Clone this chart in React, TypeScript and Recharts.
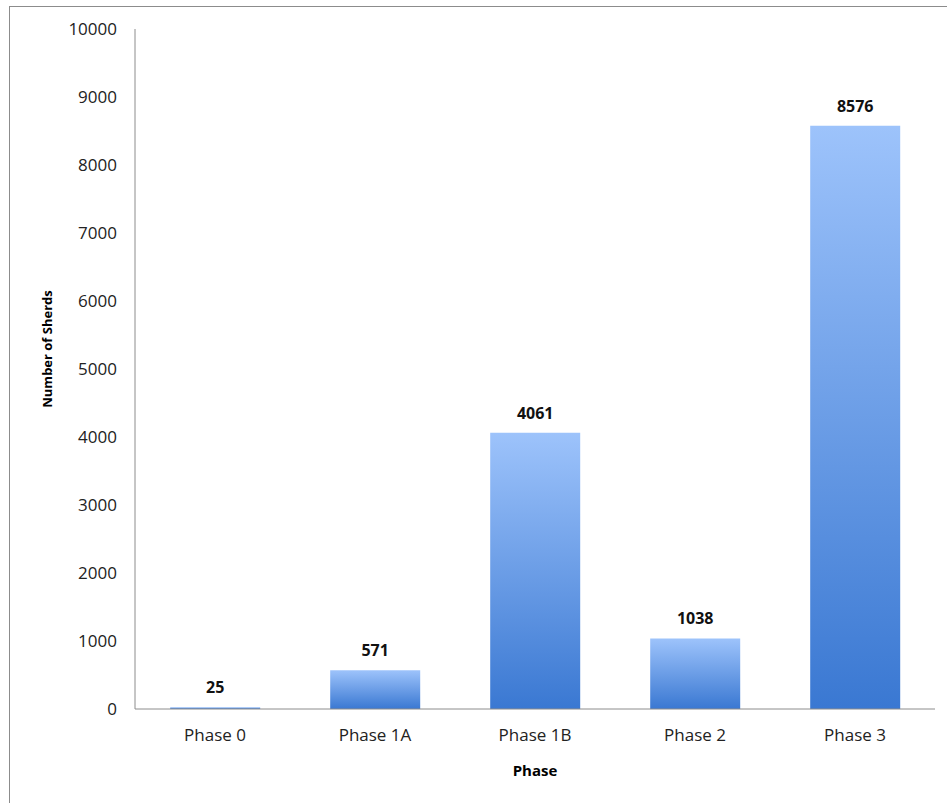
import { BarChart, Bar, XAxis, YAxis, LabelList } from "recharts"

const phases = ["Phase 0", "Phase 1A", "Phase 1B", "Phase 2", "Phase 3"]
const sherds = [25, 571, 4061, 1038, 8576]
const yTicks = [0, 1000, 2000, 3000, 4000, 5000, 6000, 7000, 8000, 9000, 10000]

const data = phases.map((phase, i) => ({ phase, sherds: sherds[i] }))

const FONT = "'Open Sans', 'Noto Sans', sans-serif"

// rotated y axis title, sits a little above the middle of the axis like the original
const YTitle = (props: any) => {
  const vb = props.viewBox || { x: 0, y: 0, width: 0, height: 0 }
  const cx = vb.x + 47
  const cy = vb.y + vb.height / 2 - 20
  return (
    <text
      x={cx}
      y={cy}
      transform={`rotate(-90 ${cx} ${cy})`}
      textAnchor="middle"
      dominantBaseline="central"
      fontFamily={FONT}
      fontWeight="bold"
      fontSize={13}
      fill="#000"
    >
      Number of Sherds
    </text>
  )
}

export default function App() {
  return (
    <div style={{ position: "absolute", left: 0, top: 0, width: 947, height: 803, background: "#fff", overflow: "hidden" }}>
      {/* outer chart frame */}
      <div style={{ position: "absolute", left: 9, top: 6, width: 960, height: 820, border: "1px solid #8c8c8c" }} />
      <BarChart
        width={947}
        height={803}
        data={data}
        margin={{ top: 29, right: 12, bottom: 0, left: 0 }}
        barCategoryGap="22%"
        style={{ position: "absolute", left: 0, top: 0 }}
      >
        <defs>
          <linearGradient id="barFill" x1="0" y1="0" x2="0" y2="1">
            <stop offset="0%" stopColor="#9dc3fb" />
            <stop offset="100%" stopColor="#3a78d2" />
          </linearGradient>
        </defs>
        <XAxis
          dataKey="phase"
          height={94}
          axisLine={{ stroke: "#8c8c8c" }}
          tickLine={false}
          tickMargin={14}
          tick={{ fontFamily: FONT, fontSize: 17, fill: "#222" }}
          label={{ value: "Phase", position: "insideBottom", offset: 27, fontFamily: FONT, fontWeight: "bold", fontSize: 15, fill: "#000" }}
        />
        <YAxis
          width={135}
          domain={[0, 10000]}
          ticks={yTicks}
          interval={0}
          axisLine={{ stroke: "#8c8c8c" }}
          tickLine={false}
          tickMargin={12}
          tick={{ fontFamily: FONT, fontSize: 17, fill: "#222" }}
          label={<YTitle />}
        />
        <Bar dataKey="sherds" fill="url(#barFill)" isAnimationActive={false}>
          <LabelList
            dataKey="sherds"
            position="top"
            offset={14}
            style={{ fontFamily: FONT, fontWeight: "bold", fontSize: 16, fill: "#111" }}
          />
        </Bar>
      </BarChart>
    </div>
  )
}
